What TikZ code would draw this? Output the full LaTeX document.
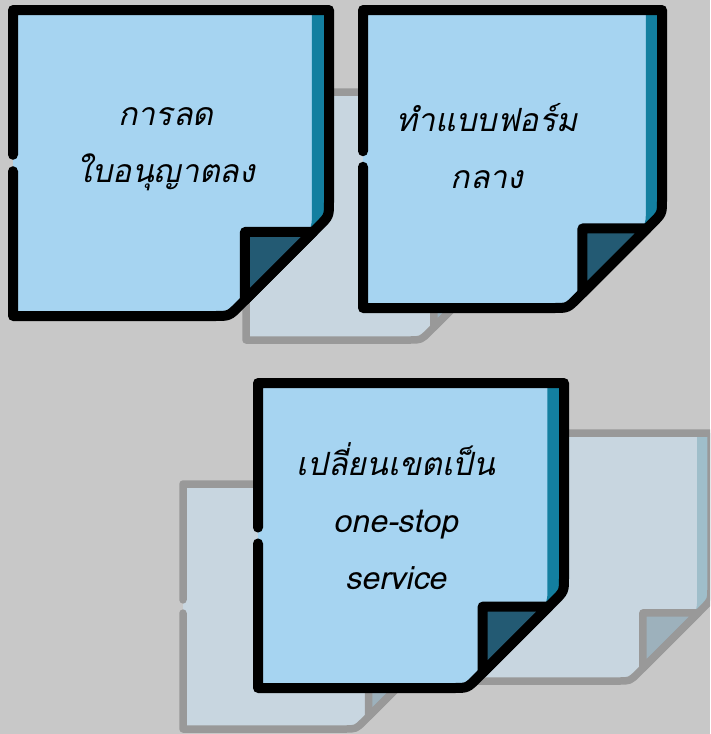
\documentclass[tikz,border=0pt]{standalone}
\usepackage{fontspec}
\newfontfamily\thaifont[Script=Thai]{Loma}

\definecolor{bggray}{HTML}{C8C8C8}
\definecolor{notepaper}{HTML}{A6D4F1}
\definecolor{noteback}{HTML}{137FA0}
\definecolor{notefold}{HTML}{235A73}
\definecolor{ghostpaper}{HTML}{C8D6E0}
\definecolor{ghostback}{HTML}{9FBECA}
\definecolor{ghostfold}{HTML}{9DB1BC}
\definecolor{ghostline}{HTML}{999999}

% sticky note: left, top, width, height, palette (note/ghost)
\newcommand\stickynote[5]{%
  \pgfmathsetmacro\npL{#1}\pgfmathsetmacro\npT{#2}%
  \pgfmathsetmacro\npR{#1+#3}\pgfmathsetmacro\npB{#2+#4}%
  \pgfmathsetmacro\npF{0.316*#3}\pgfmathsetmacro\npK{0.266*#3}%
  \pgfmathsetmacro\npS{0.054*#3}\pgfmathsetmacro\npC{0.07*#3}%
  \pgfmathsetmacro\npE{0.045*#3}\pgfmathsetmacro\npD{0.032*#3}%
  \pgfmathsetmacro\npM{#2+#4/2}\pgfmathsetmacro\npG{0.026*#3}%
  \fill[#5 paper] (\npL,\npT) -- (\npR,\npT) -- (\npR,\npB-\npF-\npE)
    .. controls (\npR,\npB-\npF) .. (\npR-\npD,\npB-\npF+\npD)
    -- (\npR-\npF+\npD,\npB-\npD) .. controls (\npR-\npF,\npB) .. (\npR-\npF-\npE,\npB)
    -- (\npL,\npB) -- cycle;
  \fill[#5 back] (\npR-\npS,\npT) -- (\npR,\npT) -- (\npR,\npB-\npF)
    -- (\npR-\npF+\npK,\npB-\npK) -- (\npR-\npS-\npC,\npB-\npK)
    .. controls (\npR-\npS,\npB-\npK) .. (\npR-\npS,\npB-\npK-\npC) -- cycle;
  \filldraw[#5 fold, #5 line] (\npR-\npK,\npB-\npK) -- (\npR-\npK,\npB-\npF+\npK)
    -- (\npR-\npF+\npK,\npB-\npK) -- cycle;
  \draw[#5 line, line cap=round] (\npL,\npM+\npG) -- (\npL,\npB) -- (\npR-\npF-\npE,\npB)
    .. controls (\npR-\npF,\npB) .. (\npR-\npF+\npD,\npB-\npD)
    -- (\npR-\npD,\npB-\npF+\npD) .. controls (\npR,\npB-\npF) .. (\npR,\npB-\npF-\npE)
    -- (\npR,\npT) -- (\npL,\npT) -- (\npL,\npM-\npG);
}

\begin{document}
\begin{tikzpicture}[x=1pt,y=-1pt,
  note paper/.style={fill=notepaper}, note back/.style={fill=noteback},
  note fold/.style={fill=notefold}, note line/.style={draw=black,line width=10pt,line join=round},
  ghost paper/.style={fill=ghostpaper}, ghost back/.style={fill=ghostback},
  ghost fold/.style={fill=ghostfold}, ghost line/.style={draw=ghostline,line width=7.5pt,line join=round},
  notetext/.style={align=center,font=\thaifont\itshape\fontsize{32}{57}\selectfont}]
  \useasboundingbox (0,0) rectangle (710,734);
  \fill[bggray] (0,0) rectangle (710,734);
  \clip (0,0) rectangle (710,734);

  \stickynote{246}{92}{256}{248}{ghost}
  \stickynote{13}{10}{316}{306}{note}
  \stickynote{363}{10}{299}{298}{note}

  \stickynote{183}{484}{253}{245}{ghost}
  \stickynote{455}{433}{256}{248}{ghost}
  \stickynote{258}{383}{306}{305}{note}

  \node[notetext] (cutlicence)  at (166,149) {การลด\\ใบอนุญาตลง};
  \node[notetext] (centralform) at (487,146) {ทำแบบฟอร์ม\\กลาง};
  \node[notetext] (onestop)     at (396,516) {เปลี่ยนเขตเป็น\\one-stop\\service};
\end{tikzpicture}
\end{document}
